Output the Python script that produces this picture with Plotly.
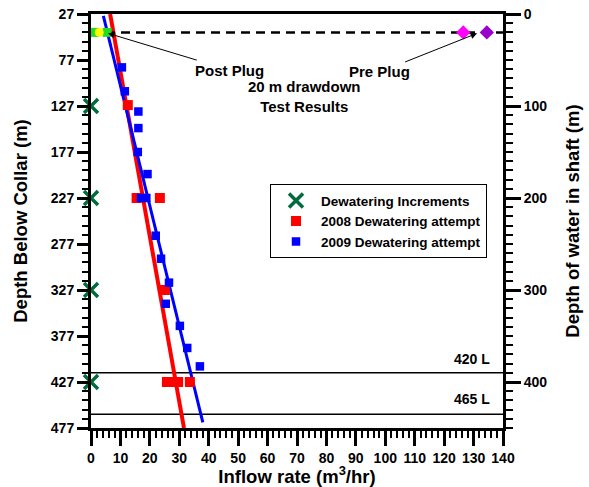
import plotly.graph_objects as go

# ---- data ----
# 2008 dewatering attempt: inflow (m3/hr) vs depth below collar (m)
q2008 = [12.5, 15.5, 23.4, 25.1, 25.8, 27.6, 29.6, 33.6]
d2008 = [126, 227, 227, 327, 427, 427, 427, 427]
# 2009 dewatering attempt
q2009 = [10.5, 11.5, 16.1, 16.1, 15.9, 19.2, 17.0, 18.8, 22.0, 23.8, 26.5, 25.4, 30.2, 32.7, 37.0]
d2009 = [85, 111, 133, 151, 177, 201, 227, 227, 268, 293, 319, 342, 366, 390, 410]
# trend lines
fit2008_q = [6.5, 31.6]
fit2008_d = [27, 477]
fit2009_q = [4.2, 38.0]
fit2009_d = [29, 471]
# dewatering increments
inc_q = [0, 0, 0, 0]
inc_d = [127, 227, 327, 427]
# 20 m drawdown test (depth of water in shaft)
drawdown_q = [0, 140]
drawdown_w = [20, 20]
post_q = [1.5, 5.5]
post_w = [20, 20]
post2_q = [2.8]
post2_w = [20]
pre1_q = [126.5]
pre2_q = [134.5]
pre_w = [20]
# levels
level_names = ["420 L", "465 L"]
level_d = [417, 462]
level_q = [0, 140]
# axes ticks
x_ticks = list(range(0, 141, 10))
y_ticks = [27, 77, 127, 177, 227, 277, 327, 377, 427, 477]
y2_ticks = [0, 100, 200, 300, 400]

FONT = "Arial, Liberation Sans, sans-serif"

fig = go.Figure()

# level lines
for i, d in enumerate(level_d):
    fig.add_trace(go.Scatter(x=level_q, y=[d, d], mode="lines",
                             line=dict(color="black", width=1.5),
                             showlegend=False, hoverinfo="skip"))

# dashed drawdown line
fig.add_trace(go.Scatter(x=drawdown_q, y=drawdown_w, yaxis="y2", mode="lines",
                         line=dict(color="black", width=2.5, dash="9px,6px"),
                         showlegend=False, hoverinfo="skip"))

# trend lines
fig.add_trace(go.Scatter(x=fit2008_q, y=fit2008_d, mode="lines",
                         line=dict(color="#FF0000", width=4), showlegend=False))
fig.add_trace(go.Scatter(x=fit2009_q, y=fit2009_d, mode="lines",
                         line=dict(color="#0000FF", width=3), showlegend=False))

# data
fig.add_trace(go.Scatter(x=inc_q, y=inc_d, mode="markers", name="Dewatering Increments",
                         marker=dict(symbol="x-thin", size=14, line=dict(color="#006B3C", width=3.5),
                                     color="#006B3C"),
                         cliponaxis=False))
fig.add_trace(go.Scatter(x=q2008, y=d2008, mode="markers", name="2008 Dewatering attempt",
                         marker=dict(symbol="square", size=10, color="#FF0000")))
fig.add_trace(go.Scatter(x=q2009, y=d2009, mode="markers", name="2009 Dewatering attempt",
                         marker=dict(symbol="square", size=8.5, color="#0000FF")))

# plug test markers
fig.add_trace(go.Scatter(x=post_q, y=post_w, yaxis="y2", mode="markers",
                         marker=dict(symbol="square", size=9, color="#22DD22"),
                         showlegend=False, cliponaxis=False))
fig.add_trace(go.Scatter(x=post2_q, y=post2_w, yaxis="y2", mode="markers",
                         marker=dict(symbol="circle", size=9, color="#FFFF00"),
                         showlegend=False, cliponaxis=False))
fig.add_trace(go.Scatter(x=pre1_q, y=pre_w, yaxis="y2", mode="markers",
                         marker=dict(symbol="diamond", size=11, color="#FF00FF"),
                         showlegend=False))
fig.add_trace(go.Scatter(x=pre2_q, y=pre_w, yaxis="y2", mode="markers",
                         marker=dict(symbol="diamond", size=11, color="#9900CC"),
                         showlegend=False))

ann_font = dict(family=FONT, size=15, color="black", weight="bold")
annotations = [
    dict(x=5.8, y=48, ax=47.2, ay=88, xref="x", yref="y", axref="x", ayref="y",
         text="Post Plug", showarrow=True, arrowhead=2, arrowsize=1.3, arrowwidth=1,
         arrowcolor="black", font=ann_font, xanchor="center", yanchor="middle"),
    dict(x=72.7, y=117, xref="x", yref="y", text="20 m drawdown<br>Test Results",
         showarrow=False, font=ann_font, xanchor="center", yanchor="middle"),
    dict(x=131.2, y=48, ax=98.2, ay=90, xref="x", yref="y", axref="x", ayref="y",
         text="Pre Plug", showarrow=True, arrowhead=2, arrowsize=1.3, arrowwidth=1,
         arrowcolor="black", font=ann_font, xanchor="center", yanchor="middle"),
]
label_y = [402, 445.5]
for name, ly in zip(level_names, label_y):
    annotations.append(dict(x=136.3, y=ly, xref="x", yref="y", text=name, showarrow=False,
                            font=dict(family=FONT, size=14, color="black", weight="bold"),
                            xanchor="right", yanchor="middle"))

tickfont = dict(family=FONT, size=14, color="black", weight="bold")
titlefont = dict(family=FONT, size=18.5, color="black", weight="bold")

fig.update_layout(
    width=589, height=487,
    margin=dict(l=91, r=86, t=14, b=59, autoexpand=False),
    paper_bgcolor="white", plot_bgcolor="white",
    font=dict(family=FONT, color="black"),
    showlegend=True,
    legend=dict(x=0.4345, y=0.589, xanchor="left", yanchor="top",
                bordercolor="black", borderwidth=1, bgcolor="white",
                font=dict(family=FONT, size=13.5, color="black", weight="bold"),
                tracegroupgap=0, itemwidth=40),
    annotations=annotations,
    xaxis=dict(range=[0, 140], tickvals=x_ticks, ticktext=[str(v) for v in x_ticks],
               automargin=False,
               showgrid=False, zeroline=False, showline=True, linecolor="black", linewidth=3,
               mirror=True, ticks="outside", ticklen=15, tickwidth=2.5, tickcolor="black",
               minor=dict(tickmode="linear", tick0=0, dtick=2, ticks="outside", ticklen=7,
                          tickwidth=2, tickcolor="black", showgrid=False),
               tickfont=tickfont,
               title=dict(text="Inflow rate (m<sup>3</sup>/hr)", font=titlefont, standoff=4)),
    yaxis=dict(range=[477, 27], tickvals=y_ticks, ticktext=[str(v) for v in y_ticks],
               automargin=False,
               showgrid=False, zeroline=False, showline=True, linecolor="black", linewidth=3,
               ticks="outside", ticklen=11, tickwidth=2.5, tickcolor="black",
               minor=dict(tickmode="linear", tick0=27, dtick=10, ticks="outside", ticklen=6,
                          tickwidth=2, tickcolor="black", showgrid=False),
               tickfont=tickfont,
               title=dict(text="Depth Below Collar (m)", font=titlefont, standoff=19)),
    yaxis2=dict(range=[450, 0], overlaying="y", side="right", tickvals=y2_ticks,
                ticktext=[str(v) for v in y2_ticks], automargin=False,
                showgrid=False, zeroline=False, showline=True, linecolor="black", linewidth=3,
                ticks="outside", ticklen=15, tickwidth=2.5, tickcolor="black",
                minor=dict(tickmode="linear", tick0=0, dtick=10, ticks="outside", ticklen=7,
                           tickwidth=2, tickcolor="black", showgrid=False),
                tickfont=tickfont,
                title=dict(text="Depth of water in shaft (m)", font=titlefont, standoff=20)),
)

fig.write_html("out.html")
